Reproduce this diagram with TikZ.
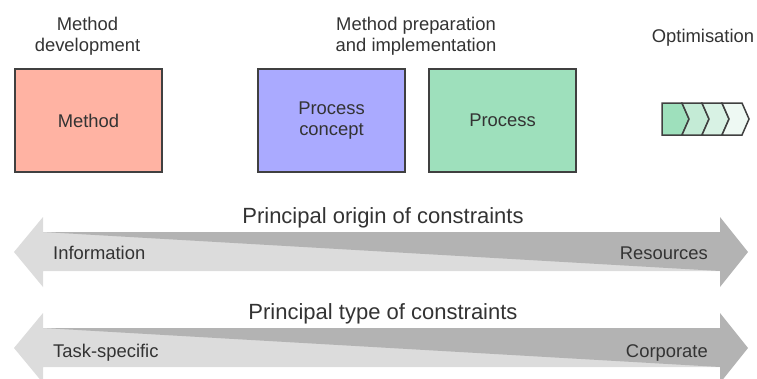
\documentclass[tikz,border=0pt]{standalone}
\usepackage{fontspec}
\setmainfont{Liberation Sans}
\definecolor{txt}{HTML}{333333}
\definecolor{edge}{HTML}{404040}
\definecolor{salmon}{HTML}{FFB3A3}
\definecolor{lilac}{HTML}{AAAAFF}
\definecolor{mint}{HTML}{9EE0BC}
\definecolor{mintb}{HTML}{C4EBD6}
\definecolor{mintc}{HTML}{D8F2E4}
\definecolor{mintd}{HTML}{EEF9F3}
\definecolor{lgrey}{HTML}{DCDCDC}
\definecolor{dgrey}{HTML}{B3B3B3}
\tikzset{
  lbl/.style={text=txt,font=\fontsize{18.4}{21.5}\selectfont,inner sep=0pt,align=center},
  big/.style={text=txt,font=\fontsize{22}{26}\selectfont,inner sep=0pt},
  box/.style={draw=edge,line width=2pt,minimum width=147pt,minimum height=103pt,inner sep=0pt,text=txt,font=\fontsize{18.4}{21.5}\selectfont,align=center},
  chev/.style={draw=edge,line width=1.5pt,line join=miter}
}
\begin{document}
\begin{tikzpicture}[x=1pt,y=-1pt]
\useasboundingbox (0,0) rectangle (757,378);
% top boxes
\node[box,fill=salmon,anchor=north west] (method) at (14,68) {Method};
\node[box,fill=lilac,anchor=north west] (concept) at (257,68) {Process\\concept};
\node[box,fill=mint,anchor=north west] (process) at (428,68) {Process};
% titles
\node[lbl] (t1) at (87.5,36) {Method\\development};
\node[lbl] (t2) at (416,36) {Method preparation\\and implementation};
\node[lbl,anchor=base] (t3) at (703,42) {Optimisation};
% chevrons
\draw[chev,fill=mint] (662,103) -- (682,103) -- (689,119) -- (682,135) -- (662,135) -- cycle;
\foreach \i/\c in {1/mintb,2/mintc,3/mintd}{
  \pgfmathsetmacro{\xo}{662+20*\i}
  \draw[chev,fill=\c] (\xo,103) -- (\xo+20,103) -- (\xo+27,119) -- (\xo+20,135) -- (\xo,135) -- (\xo+7,119) -- cycle;
}
% arrows
\foreach \dy in {0,96}{
  \fill[lgrey] (14,252+\dy) -- (43,217+\dy) -- (43,232+\dy) -- (720,232+\dy) -- (720,271+\dy) -- (43,271+\dy) -- (43,287+\dy) -- cycle;
  \fill[dgrey] (43,232+\dy) -- (720,232+\dy) -- (720,217+\dy) -- (748,252+\dy) -- (720,287+\dy) -- (720,271+\dy) -- cycle;
}
\node[big,anchor=base] (h1) at (383,223) {Principal origin of constraints};
\node[big,anchor=base] (h2) at (383,319) {Principal type of constraints};
\node[lbl,anchor=base west] (info) at (53,259) {Information};
\node[lbl,anchor=base east] (res) at (708,259) {Resources};
\node[lbl,anchor=base west] (task) at (53,357) {Task-specific};
\node[lbl,anchor=base east] (corp) at (708,357) {Corporate};
\end{tikzpicture}
\end{document}
